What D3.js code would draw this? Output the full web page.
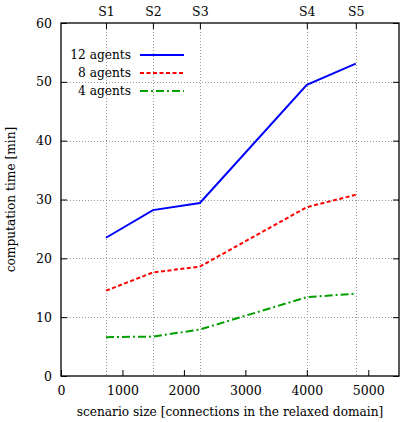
<!DOCTYPE html>
<html><head><meta charset="utf-8">
<script src="https://cdn.jsdelivr.net/npm/d3@7"></script>
<style>body{margin:0;background:#fff}</style>
</head><body><svg id="c" width="403" height="422"></svg>
<script>
const scenarioLabels = ["S1","S2","S3","S4","S5"];
const scenarioSizes = [732, 1496, 2260, 4000, 4797];
const agents12 = [23.5, 28.2, 29.4, 49.5, 53.1];
const agents8 = [14.5, 17.6, 18.6, 28.7, 30.8];
const agents4 = [6.6, 6.7, 7.9, 13.4, 14.0];
const seriesNames = ["12 agents","8 agents","4 agents"];
const xTicks = [0,1000,2000,3000,4000,5000];
const yTicks = [0,10,20,30,40,50,60];

const FONT = "'DejaVu Serif',serif";
const FS = "12.2px";
const FT = "12.5px";
const svg = d3.select("#c");
const L=61, R=399, T=23, B=376;
const x = d3.scaleLinear().domain([0,5500]).range([L,R]);
const y = d3.scaleLinear().domain([0,60]).range([B,T]);

// grid
const g = svg.append("g").attr("stroke","#999").attr("stroke-width",1).attr("stroke-dasharray","1,2");
yTicks.filter(v=>v>0&&v<60).forEach(v=>g.append("line").attr("x1",L).attr("x2",R).attr("y1",Math.round(y(v))+0.5).attr("y2",Math.round(y(v))+0.5));
scenarioSizes.forEach(v=>g.append("line").attr("x1",Math.round(x(v))+0.5).attr("x2",Math.round(x(v))+0.5).attr("y1",T).attr("y2",B));

// axes with inward ticks
const ax = svg.append("g");
const axBottom = d3.axisBottom(x).tickValues(xTicks).tickSize(-6).tickPadding(10).tickFormat(d3.format("d"));
ax.append("g").attr("transform",`translate(0,${B})`).call(axBottom);
const axTop = d3.axisTop(x).tickValues(scenarioSizes).tickSize(-6).tickPadding(7).tickFormat((d,i)=>scenarioLabels[i]);
ax.append("g").attr("transform",`translate(0,${T})`).call(axTop);
const axLeft = d3.axisLeft(y).tickValues(yTicks).tickSize(-6).tickPadding(9);
ax.append("g").attr("transform",`translate(${L},0)`).call(axLeft);
const axRight = d3.axisRight(y).tickValues(yTicks).tickSize(-6).tickFormat("");
ax.append("g").attr("transform",`translate(${R},0)`).call(axRight);
ax.selectAll(".domain").remove();
ax.selectAll("g").attr("font-family",null).attr("font-size",null);
ax.selectAll(".tick line").attr("stroke","#000").attr("stroke-width",1);
ax.selectAll("text").attr("font-family",FONT).attr("font-size",FT).attr("fill","#000");
svg.append("rect").attr("x",L).attr("y",T).attr("width",R-L).attr("height",B-T).attr("fill","none").attr("stroke","#000").attr("stroke-width",1.3);

// lines
const series = [
 {vals:agents12,color:"#0000ff",dash:null},
 {vals:agents8,color:"#ff0000",dash:"4,2.5"},
 {vals:agents4,color:"#00a000",dash:"8,3,2,3"}
];
const line = d3.line().x((d,i)=>x(scenarioSizes[i])).y(d=>y(d));
series.forEach((s,k)=>{
  svg.append("path").attr("d",line(s.vals)).attr("fill","none").attr("stroke",s.color).attr("stroke-width",2).attr("stroke-dasharray",s.dash);
});

// legend
series.forEach((s,k)=>{
  const yy = 55 + k*18;
  svg.append("text").attr("x",131).attr("y",yy).attr("dy","0.35em").attr("text-anchor","end").attr("font-family",FONT).attr("font-size",FS).text(seriesNames[k]);
  svg.append("line").attr("x1",140).attr("x2",184).attr("y1",yy).attr("y2",yy).attr("stroke",s.color).attr("stroke-width",2).attr("stroke-dasharray",s.dash);
});

// axis labels
svg.append("text").attr("x",(L+R)/2).attr("y",416).attr("text-anchor","middle").attr("font-family",FONT).attr("font-size",FS).text("scenario size [connections in the relaxed domain]");
svg.append("text").attr("transform",`translate(15,${(T+B)/2}) rotate(-90)`).attr("text-anchor","middle").attr("font-family",FONT).attr("font-size",FS).text("computation time [min]");
</script></body></html>
